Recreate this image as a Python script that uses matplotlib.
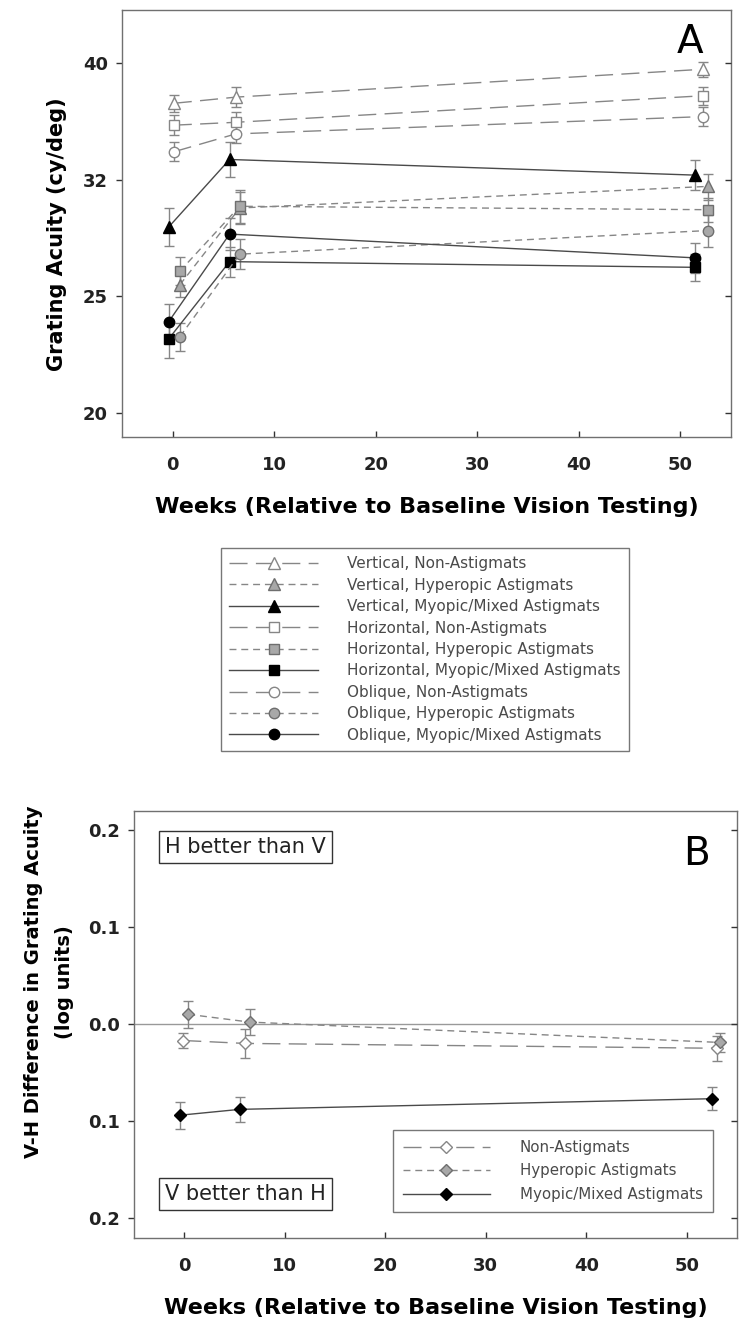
import matplotlib
matplotlib.use("Agg")
import matplotlib.pyplot as plt
from matplotlib.ticker import NullLocator

plt.rcParams['font.family'] = ['DejaVu Sans']

# ---- Panel A data: grating acuity (cy/deg) at each visit ----
weeks_myo = [-0.4, 5.6, 51.5]
weeks_non = [0.1, 6.2, 52.2]
weeks_hyp = [0.7, 6.6, 52.7]

v_non = [36.75, 37.2, 39.3]
v_hyp = [25.7, 29.9, 31.2]
v_myo = [28.8, 32.9, 31.9]
h_non = [35.2, 35.4, 37.3]
h_hyp = [26.4, 30.0, 29.8]
h_myo = [23.1, 26.9, 26.6]
o_non = [33.4, 34.6, 35.8]
o_hyp = [23.2, 27.3, 28.6]
o_myo = [23.9, 28.4, 27.1]

v_non_se = [0.63, 0.73, 0.60]
v_hyp_se = [0.61, 0.95, 0.80]
v_myo_se = [1.08, 1.13, 0.94]
h_non_se = [0.69, 0.70, 0.68]
h_hyp_se = [0.73, 0.99, 0.70]
h_myo_se = [0.86, 0.79, 0.73]
o_non_se = [0.63, 0.61, 0.65]
o_hyp_se = [0.64, 0.81, 0.90]
o_myo_se = [0.85, 0.90, 0.80]

# ---- Panel B data: V-H difference (log units) ----
weeks_b_non = [-0.1, 6.0, 53.0]
weeks_b_hyp = [0.4, 6.5, 53.3]
weeks_b_myo = [-0.4, 5.5, 52.5]
vh_non = [-0.017, -0.020, -0.025]
vh_hyp = [0.010, 0.002, -0.019]
vh_myo = [-0.094, -0.088, -0.077]
vh_non_se = [0.008, 0.015, 0.013]
vh_hyp_se = [0.014, 0.013, 0.010]
vh_myo_se = [0.014, 0.013, 0.012]

acuity_ticks = [10 ** 1.3, 10 ** 1.4, 10 ** 1.5, 10 ** 1.6]
acuity_labels = ['20', '25', '32', '40']
diff_ticks = [-0.2, -0.1, 0.0, 0.1, 0.2]
diff_labels = ['0.2', '0.1', '0.0', '0.1', '0.2']
week_ticks = [0, 10, 20, 30, 40, 50]

GRAY = '#868686'
DARK = '#4a4a4a'
FILLG = '#a8a8a8'
EDGEG = '#6e6e6e'
LONG = (0, (13, 6))
SHORT = (0, (5, 3.5))

W, H = 739, 1324
fig = plt.figure(figsize=(W / 100, H / 100), dpi=100)


def fx(px):
    return px / W


def fy(py):
    return 1 - py / H


# ---------------- Panel A ----------------
axA = fig.add_axes([fx(122), fy(437), (731 - 122) / W, (437 - 10) / H])

seriesA = [
    ('Vertical, Non-Astigmats', weeks_non, v_non, v_non_se, '^', 'white', GRAY, GRAY, LONG),
    ('Vertical, Hyperopic Astigmats', weeks_hyp, v_hyp, v_hyp_se, '^', FILLG, EDGEG, GRAY, SHORT),
    ('Vertical, Myopic/Mixed Astigmats', weeks_myo, v_myo, v_myo_se, '^', 'black', 'black', DARK, '-'),
    ('Horizontal, Non-Astigmats', weeks_non, h_non, h_non_se, 's', 'white', GRAY, GRAY, LONG),
    ('Horizontal, Hyperopic Astigmats', weeks_hyp, h_hyp, h_hyp_se, 's', FILLG, EDGEG, GRAY, SHORT),
    ('Horizontal, Myopic/Mixed Astigmats', weeks_myo, h_myo, h_myo_se, 's', 'black', 'black', DARK, '-'),
    ('Oblique, Non-Astigmats', weeks_non, o_non, o_non_se, 'o', 'white', GRAY, GRAY, LONG),
    ('Oblique, Hyperopic Astigmats', weeks_hyp, o_hyp, o_hyp_se, 'o', FILLG, EDGEG, GRAY, SHORT),
    ('Oblique, Myopic/Mixed Astigmats', weeks_myo, o_myo, o_myo_se, 'o', 'black', 'black', DARK, '-'),
]
msize = {'^': 8, 's': 7, 'o': 7.5}

handles = []
for label, xs, ys, se, mk, fc, ec, lc, ls in seriesA:
    axA.errorbar(xs, ys, yerr=se, fmt='none', ecolor=GRAY, elinewidth=1.0,
                 capsize=3.5, capthick=1.0, zorder=2)
    ln, = axA.plot(xs, ys, linestyle=ls, color=lc, linewidth=1.0,
                   marker=mk, markersize=msize[mk], markerfacecolor=fc,
                   markeredgecolor=ec, markeredgewidth=1.0, label=label, zorder=3)
    handles.append(ln)

axA.set_yscale('log')
axA.set_ylim(19.04, 44.17)
axA.set_yticks(acuity_ticks)
axA.set_yticklabels(acuity_labels)
axA.yaxis.set_minor_locator(NullLocator())
axA.set_xlim(-5.0, 55.0)
axA.set_xticks(week_ticks)
axA.set_ylabel('Grating Acuity (cy/deg)', fontsize=15, fontweight='bold')
axA.yaxis.set_label_coords(-0.09, 0.475)
axA.set_xlabel('Weeks (Relative to Baseline Vision Testing)', fontsize=16,
               fontweight='bold', labelpad=16)
axA.text(0.955, 0.969, 'A', transform=axA.transAxes, fontsize=28,
         ha='right', va='top')

# ---------------- Panel B ----------------
axB = fig.add_axes([fx(134), fy(1238), (737 - 134) / W, (1238 - 811) / H])
axB.axhline(0, color='#999999', linewidth=1.0, zorder=1)

seriesB = [
    ('Non-Astigmats', weeks_b_non, vh_non, vh_non_se, 'white', GRAY, GRAY, LONG),
    ('Hyperopic Astigmats', weeks_b_hyp, vh_hyp, vh_hyp_se, FILLG, EDGEG, GRAY, SHORT),
    ('Myopic/Mixed Astigmats', weeks_b_myo, vh_myo, vh_myo_se, 'black', 'black', DARK, '-'),
]
handlesB = []
for label, xs, ys, se, fc, ec, lc, ls in seriesB:
    axB.errorbar(xs, ys, yerr=se, fmt='none', ecolor=GRAY, elinewidth=1.0,
                 capsize=3.5, capthick=1.0, zorder=2)
    ln, = axB.plot(xs, ys, linestyle=ls, color=lc, linewidth=1.0,
                   marker='D', markersize=6.5, markerfacecolor=fc,
                   markeredgecolor=ec, markeredgewidth=1.0, label=label, zorder=3)
    handlesB.append(ln)

axB.set_ylim(-0.2206, 0.2196)
axB.set_yticks(diff_ticks)
axB.set_yticklabels(diff_labels)
axB.set_xlim(-5.0, 55.0)
axB.set_xticks(week_ticks)
axB.set_ylabel('V-H Difference in Grating Acuity\n(log units)', fontsize=14,
               fontweight='bold', linespacing=1.75)
axB.yaxis.set_label_coords(-0.1, 0.6)
axB.set_xlabel('Weeks (Relative to Baseline Vision Testing)', fontsize=16,
               fontweight='bold', labelpad=16)
axB.text(0.955, 0.944, 'B', transform=axB.transAxes, fontsize=28,
         ha='right', va='top')

boxprops = dict(boxstyle='square,pad=0.3', facecolor='white', edgecolor='#333333', linewidth=1.0)
fig.text(fx(165), fy(847), 'H better than V', fontsize=15, ha='left', va='center',
         color='#222222', bbox=boxprops)
fig.text(fx(165), fy(1194), 'V better than H', fontsize=15, ha='left', va='center',
         color='#222222', bbox=boxprops)

# ---------------- shared axis style ----------------
for ax in (axA, axB):
    for sp in ax.spines.values():
        sp.set_color('#707070')
        sp.set_linewidth(1.0)
    ax.tick_params(axis='y', which='both', direction='out', length=4, width=1,
                   color='#333333', left=True, right=False, labelsize=13, pad=6)
    ax.tick_params(axis='x', direction='in', length=4, width=1, color='#333333',
                   labelsize=13, pad=14)
    for lab in ax.get_xticklabels() + ax.get_yticklabels():
        lab.set_fontweight('bold')
        lab.set_color('#222222')

# short inward ticks on the right-hand frame (no labels)
for ax, ticks in ((axA, acuity_ticks), (axB, diff_ticks)):
    tw = ax.twinx()
    tw.set_yscale(ax.get_yscale())
    tw.set_ylim(ax.get_ylim())
    tw.set_yticks(ticks)
    tw.set_yticklabels([])
    tw.yaxis.set_minor_locator(NullLocator())
    tw.tick_params(axis='y', direction='in', length=4, width=1, color='#333333')
    for sp in tw.spines.values():
        sp.set_visible(False)

# ---------------- Legends ----------------
legA = fig.legend(handles=handles, loc='upper left',
                  bbox_to_anchor=(fx(221), fy(548)), fontsize=11,
                  frameon=True, fancybox=False, edgecolor='#555555',
                  handlelength=5.8, handletextpad=1.9, labelspacing=0.42,
                  borderpad=0.55, borderaxespad=0)
legA.get_frame().set_linewidth(1.0)
for t in legA.get_texts():
    t.set_color('#4a4a4a')

legB = fig.legend(handles=handlesB, loc='upper left',
                  bbox_to_anchor=(fx(393), fy(1130)), fontsize=10.8,
                  frameon=True, fancybox=False, edgecolor='#555555',
                  handlelength=5.8, handletextpad=2.0, labelspacing=0.58,
                  borderpad=0.65, borderaxespad=0)
legB.get_frame().set_linewidth(1.0)
for t in legB.get_texts():
    t.set_color('#4a4a4a')

fig.savefig('out.png', dpi=100)
